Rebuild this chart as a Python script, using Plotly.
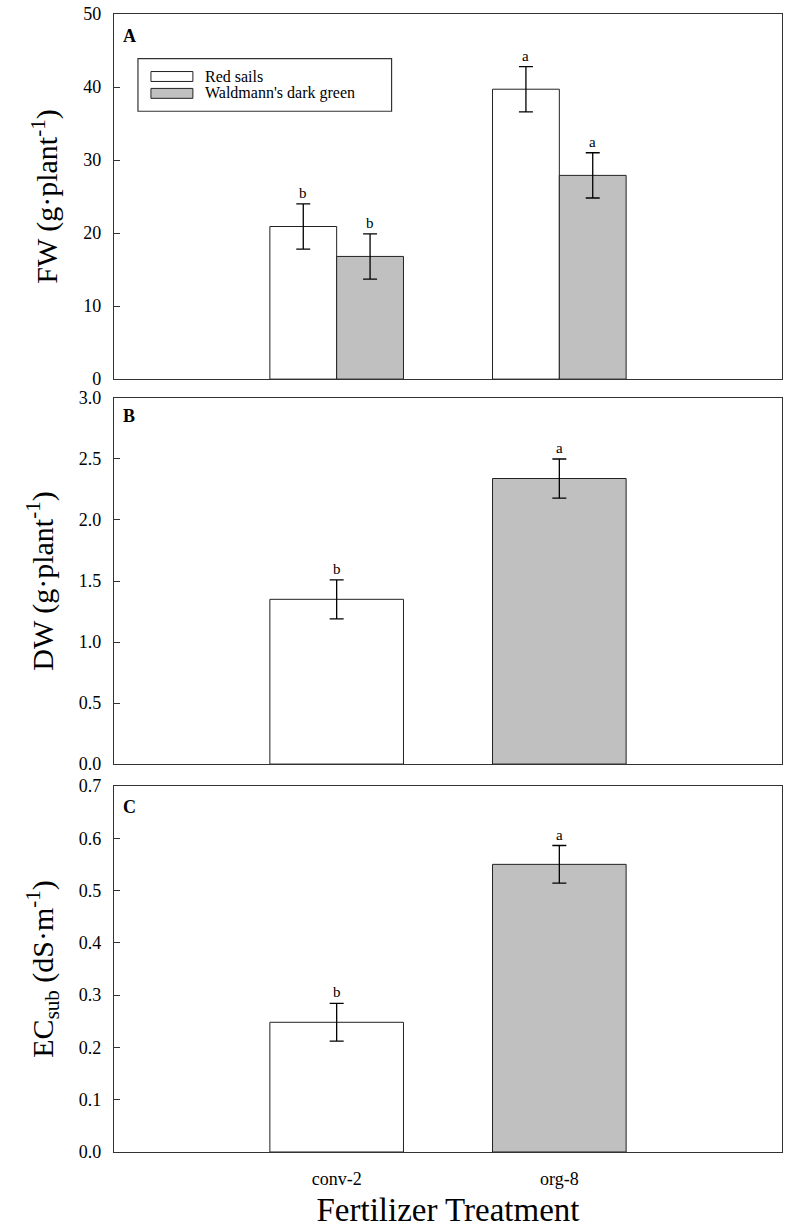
import plotly.graph_objects as go

# ---------------- data ----------------
categories = ["conv-2", "org-8"]
cultivars = ["Red sails", "Waldmann's dark green"]

fw_red = [20.9, 39.7]
fw_red_err = [3.1, 3.1]
fw_red_letters = ["b", "a"]
fw_wald = [16.8, 27.9]
fw_wald_err = [3.1, 3.1]
fw_wald_letters = ["b", "a"]

dw_vals = [1.35, 2.34]
dw_err = [0.16, 0.16]
dw_letters = ["b", "a"]

ec_vals = [0.248, 0.550]
ec_err = [0.036, 0.036]
ec_letters = ["b", "a"]

fw_ticks = [0, 10, 20, 30, 40, 50]
dw_ticks = [0.0, 0.5, 1.0, 1.5, 2.0, 2.5, 3.0]
ec_ticks = [0.0, 0.1, 0.2, 0.3, 0.4, 0.5, 0.6, 0.7]

panel_letters = ["A", "B", "C"]
y_titles = ["FW (g·plant<sup>-1</sup>)", "DW (g·plant<sup>-1</sup>)",
            "EC<sub>sub</sub> (dS·m<sup>-1</sup>)"]
x_title = "Fertilizer Treatment"

# ---------------- style ----------------
FONT = "Liberation Serif, Times New Roman, serif"
WHITE = "#ffffff"
GRAY = "#c0c0c0"
EDGE = "#222222"
AXC = "#333333"

W, H = 787, 1228
ML, MR, MT, MB = 114, 4, 10, 71
PH = H - MT - MB
PW = W - ML - MR
XRANGE = [-1, 2]
BARGAP = 0.4
# half of one grouped bar's width in pixels (offset of each bar centre)
GROUP_SHIFT = (1 - BARGAP) / 4 * PW / (XRANGE[1] - XRANGE[0])


def py(p):
    """pixel y -> paper y"""
    return (H - MB - p) / PH


def px(p):
    return (p - ML) / PW


domains = [(py(378), py(10)), (py(766), py(397)), (py(1157), py(788))]

fig = go.Figure()

err_style = dict(type="data", color="black", thickness=1.3, width=7, visible=True)

# Panel A: grouped bars
fig.add_trace(go.Bar(x=categories, y=fw_red, name=cultivars[0],
                     marker=dict(color=WHITE, line=dict(color=EDGE, width=1)),
                     error_y=dict(array=fw_red_err, **err_style),
                     xaxis="x", yaxis="y", showlegend=False))
fig.add_trace(go.Bar(x=categories, y=fw_wald, name=cultivars[1],
                     marker=dict(color=GRAY, line=dict(color=EDGE, width=1)),
                     error_y=dict(array=fw_wald_err, **err_style),
                     xaxis="x", yaxis="y", showlegend=False))

# Panel B
fig.add_trace(go.Bar(x=categories, y=dw_vals,
                     marker=dict(color=[WHITE, GRAY], line=dict(color=EDGE, width=1)),
                     error_y=dict(array=dw_err, **err_style),
                     xaxis="x2", yaxis="y2", showlegend=False))
# Panel C
fig.add_trace(go.Bar(x=categories, y=ec_vals,
                     marker=dict(color=[WHITE, GRAY], line=dict(color=EDGE, width=1)),
                     error_y=dict(array=ec_err, **err_style),
                     xaxis="x3", yaxis="y3", showlegend=False))

tickfont = dict(family=FONT, size=18, color="black")
titlefont = dict(family=FONT, size=30, color="black")

ax_common = dict(showline=True, linecolor=AXC, linewidth=1.2, mirror=True,
                 showgrid=False, zeroline=False)

yaxes = []
for i, (ticks, fmt, title) in enumerate(zip([fw_ticks, dw_ticks, ec_ticks],
                                             ["d", ".1f", ".1f"], y_titles)):
    yaxes.append(dict(domain=list(domains[i]), range=[ticks[0], ticks[-1]],
                      tickvals=ticks, tickformat=fmt, ticks="inside", ticklen=6,
                      tickcolor=AXC, tickwidth=1, tickfont=tickfont,
                      ticklabelstandoff=8,
                      title=dict(text=title, font=titlefont, standoff=16),
                      anchor=["x", "x2", "x3"][i], **ax_common))

xaxes = []
for i in range(3):
    ax = dict(domain=[0, 1], range=XRANGE, type="category",
              categoryorder="array", categoryarray=categories,
              anchor=["y", "y2", "y3"][i], ticks="",
              showticklabels=(i == 2),
              tickfont=dict(family=FONT, size=18, color="black"),
              ticklabelstandoff=10, **ax_common)
    if i == 2:
        ax["title"] = dict(text=x_title,
                           font=dict(family=FONT, size=33, color="black"),
                           standoff=12)
    xaxes.append(ax)

fig.update_layout(
    width=W, height=H,
    margin=dict(l=ML, r=MR, t=MT, b=MB),
    paper_bgcolor="white", plot_bgcolor="white",
    barmode="group", bargap=BARGAP, bargroupgap=0,
    xaxis=xaxes[0], xaxis2=xaxes[1], xaxis3=xaxes[2],
    yaxis=yaxes[0], yaxis2=yaxes[1], yaxis3=yaxes[2],
    showlegend=False,
)

annots = []
# significance letters
letter_font = dict(family=FONT, size=15, color="black")
for j, cat in enumerate(categories):
    annots.append(dict(x=cat, y=fw_red[j] + fw_red_err[j], xref="x", yref="y",
                       text=fw_red_letters[j], showarrow=False, yanchor="bottom",
                       xshift=-GROUP_SHIFT, yshift=1, font=letter_font))
    annots.append(dict(x=cat, y=fw_wald[j] + fw_wald_err[j], xref="x", yref="y",
                       text=fw_wald_letters[j], showarrow=False, yanchor="bottom",
                       xshift=GROUP_SHIFT, yshift=1, font=letter_font))
    annots.append(dict(x=cat, y=dw_vals[j] + dw_err[j], xref="x2", yref="y2",
                       text=dw_letters[j], showarrow=False, yanchor="bottom",
                       yshift=1, font=letter_font))
    annots.append(dict(x=cat, y=ec_vals[j] + ec_err[j], xref="x3", yref="y3",
                       text=ec_letters[j], showarrow=False, yanchor="bottom",
                       yshift=1, font=letter_font))

# panel letters
for lab, ypix in zip(panel_letters, [32, 415, 809]):
    annots.append(dict(x=px(121), y=py(ypix), xref="paper", yref="paper",
                       text="<b>%s</b>" % lab, showarrow=False, xanchor="left",
                       yanchor="middle", font=dict(family=FONT, size=18, color="black")))

# custom legend (inside panel A)
shapes = [dict(type="rect", xref="paper", yref="paper",
               x0=px(138), x1=px(392), y0=py(108), y1=py(55),
               line=dict(color=AXC, width=1.2), fillcolor="white", layer="above")]
for k, (name, col, yc) in enumerate(zip(cultivars, [WHITE, GRAY], [73, 90])):
    shapes.append(dict(type="rect", xref="paper", yref="paper",
                       x0=px(151), x1=px(193), y0=py(yc + 5), y1=py(yc - 5),
                       line=dict(color=EDGE, width=1), fillcolor=col, layer="above"))
    annots.append(dict(x=px(203), y=py(yc), xref="paper", yref="paper", text=name,
                       showarrow=False, xanchor="left", yanchor="middle",
                       font=dict(family=FONT, size=16, color="black")))

fig.update_layout(annotations=annots, shapes=shapes)

fig.write_html("out.html")
